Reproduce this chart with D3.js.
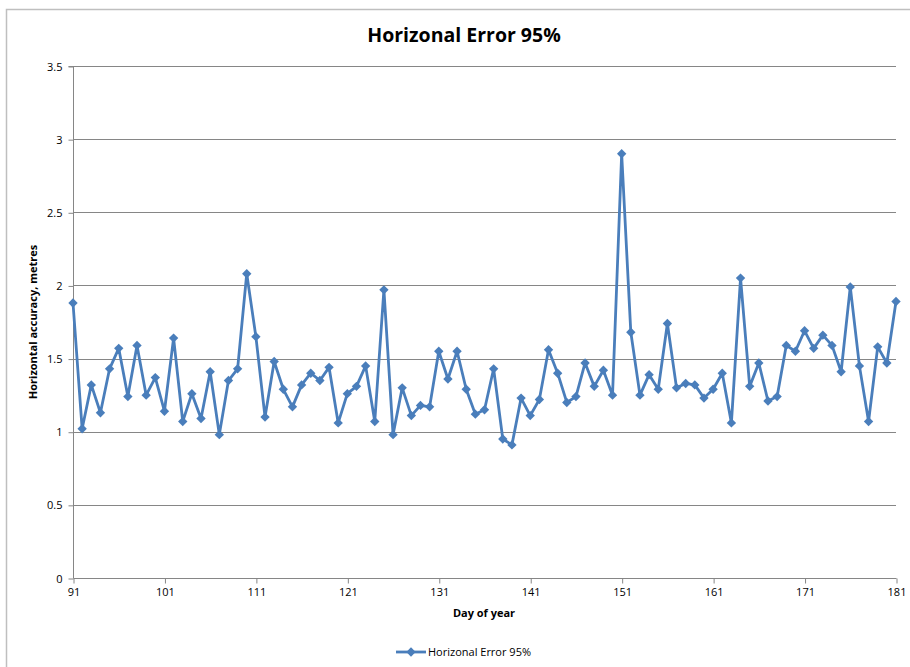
<!DOCTYPE html>
<html>
<head>
<meta charset="utf-8">
<script src="https://cdn.jsdelivr.net/npm/d3@7"></script>
<style>
  html, body { margin: 0; padding: 0; background: #fff; }
  svg { display: block; }
  text { font-family: "Open Sans", "Liberation Sans", sans-serif; }
</style>
</head>
<body>
<svg id="chart" width="910" height="667"></svg>
<script>
const days = d3.range(91, 182);
const errors = [
  1.88, 1.02, 1.32, 1.13, 1.43, 1.57, 1.24, 1.59, 1.25, 1.37,
  1.14, 1.64, 1.07, 1.26, 1.09, 1.41, 0.98, 1.35, 1.43, 2.08,
  1.65, 1.10, 1.48, 1.29, 1.17, 1.32, 1.40, 1.35, 1.44, 1.06,
  1.26, 1.31, 1.45, 1.07, 1.97, 0.98, 1.30, 1.11, 1.18, 1.17,
  1.55, 1.36, 1.55, 1.29, 1.12, 1.15, 1.43, 0.95, 0.91, 1.23,
  1.11, 1.22, 1.56, 1.40, 1.20, 1.24, 1.47, 1.31, 1.42, 1.25,
  2.90, 1.68, 1.25, 1.39, 1.29, 1.74, 1.30, 1.33, 1.32, 1.23,
  1.29, 1.40, 1.06, 2.05, 1.31, 1.47, 1.21, 1.24, 1.59, 1.55,
  1.69, 1.57, 1.66, 1.59, 1.41, 1.99, 1.45, 1.07, 1.58, 1.47,
  1.89
];
const xTicks = [91, 101, 111, 121, 131, 141, 151, 161, 171, 181];
const yTicks = [0, 0.5, 1, 1.5, 2, 2.5, 3, 3.5];
const seriesName = "Horizonal Error 95%";
const titleText = "Horizonal Error 95%";
const xTitle = "Day of year";
const yTitle = "Horizontal accuracy, metres";

(function () {
const data = days.map((d, i) => ({ day: d, value: errors[i] }));

const svg = d3.select("#chart");
const pLeft = 73, pRight = 896, pTop = 66, pBottom = 578;
const color = "#4a7ebb";
const axisColor = "#868686";

// outer chart border
svg.append("rect")
  .attr("x", 6.5).attr("y", 9.5)
  .attr("width", 1000).attr("height", 1000)
  .attr("fill", "none").attr("stroke", "#bfbfbf").attr("stroke-width", 1.5);

const x = d3.scaleLinear().domain([91, 181]).range([pLeft, pRight]);
const y = d3.scaleLinear().domain([0, 3.5]).range([pBottom, pTop]);

// gridlines
svg.append("g").selectAll("line")
  .data(yTicks.filter(t => t > 0))
  .join("line")
  .attr("x1", pLeft).attr("x2", pRight)
  .attr("y1", d => Math.round(y(d)) + 0.5).attr("y2", d => Math.round(y(d)) + 0.5)
  .attr("stroke", axisColor).attr("stroke-width", 1);

// y axis
const yAxis = svg.append("g")
  .attr("transform", `translate(${pLeft + 0.5},0.5)`)
  .call(d3.axisLeft(y).tickValues(yTicks).tickSize(5).tickPadding(6)
    .tickFormat(d => d3.format("")(d)));
yAxis.select(".domain").attr("stroke", axisColor).attr("d", `M-5,${pTop}H0V${pBottom}`);
yAxis.selectAll(".tick line").attr("stroke", axisColor);
yAxis.selectAll(".tick text").attr("font-size", 11).attr("fill", "#000")
  .style("font-family", "'Open Sans', sans-serif");

// x axis
const xAxis = svg.append("g")
  .attr("transform", `translate(0.5,${pBottom + 0.5})`)
  .call(d3.axisBottom(x).tickValues(xTicks).tickSize(5).tickPadding(5)
    .tickFormat(d3.format("d")));
xAxis.select(".domain").attr("stroke", axisColor).attr("d", `M${pLeft},0H${pRight}`);
xAxis.selectAll(".tick line").attr("stroke", axisColor);
xAxis.selectAll(".tick text").attr("font-size", 11).attr("fill", "#000")
  .style("font-family", "'Open Sans', sans-serif");

// line
const line = d3.line().x(d => x(d.day)).y(d => y(d.value));
svg.append("path")
  .datum(data)
  .attr("d", line)
  .attr("fill", "none")
  .attr("stroke", color)
  .attr("stroke-width", 2.8)
  .attr("stroke-linejoin", "round");

// diamond markers
const diamond = d3.symbol().type(d3.symbolDiamond2).size(56);
svg.append("g").selectAll("path")
  .data(data)
  .join("path")
  .attr("transform", d => `translate(${x(d.day)},${y(d.value)})`)
  .attr("d", diamond)
  .attr("fill", color);

// title
svg.append("text")
  .attr("x", 464).attr("y", 42)
  .attr("text-anchor", "middle")
  .attr("font-size", 19.5).attr("font-weight", "bold")
  .text(titleText);

// x title
svg.append("text")
  .attr("x", 484).attr("y", 617)
  .attr("text-anchor", "middle")
  .attr("font-size", 11).attr("font-weight", "bold")
  .text(xTitle);

// y title
svg.append("text")
  .attr("transform", "translate(37,322) rotate(-90)")
  .attr("text-anchor", "middle")
  .attr("font-size", 11).attr("font-weight", "bold")
  .text(yTitle);

// legend
const lg = svg.append("g").attr("transform", "translate(396,652)");
lg.append("line").attr("x1", 0).attr("x2", 30).attr("y1", 0).attr("y2", 0)
  .attr("stroke", color).attr("stroke-width", 2.8);
lg.append("path").attr("transform", "translate(15,0)").attr("d", diamond).attr("fill", color);
lg.append("text").attr("x", 32).attr("y", 4).attr("font-size", 11).attr("fill", "#000")
  .text(seriesName);
})();
</script>
</body>
</html>
